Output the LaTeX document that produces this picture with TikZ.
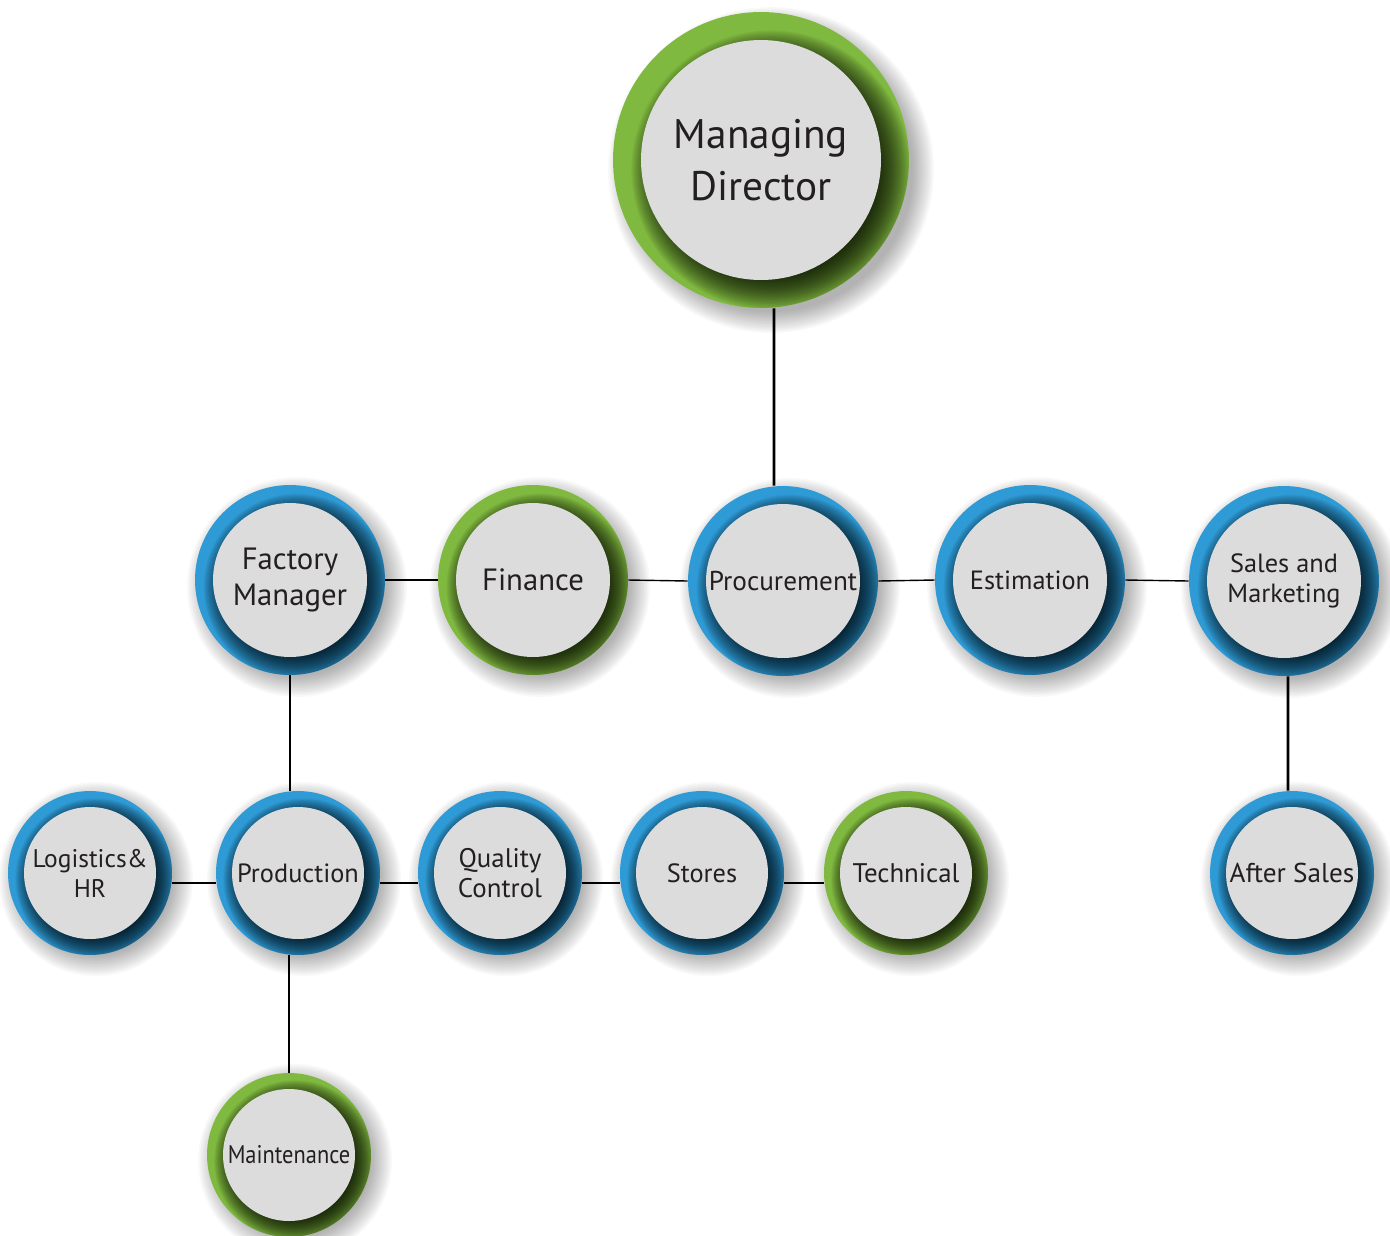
\documentclass[tikz,border=0pt]{standalone}
\usepackage{fontspec}
\setmainfont{PT Sans}

\definecolor{ringblue}{HTML}{2F9BD6}
\definecolor{ringgreen}{HTML}{80B940}
\definecolor{discgray}{HTML}{DCDCDC}
\definecolor{inktext}{HTML}{231F20}

\tikzset{
  unit/.style={circle, inner sep=0pt, align=center, text=inktext, fill=#1,
    path picture={
      \foreach \k in {24,...,0}
        \fill[black, opacity=.05] ([shift={(\shd,\shd)}]path picture bounding box.center) circle (\inr-\bst+\k*\blr);
      \fill[discgray] (path picture bounding box.center) circle (\inr);
    }},
  big/.code={\def\outr{2.96cm}\def\inr{2.4cm}\def\shd{10}\def\bst{0.28cm}\def\blr{0.028cm}\pgfkeysalso{minimum size=5.92cm}},
  mid/.code={\def\outr{1.9cm}\def\inr{1.54cm}\def\shd{7}\def\bst{0.2cm}\def\blr{0.022cm}\pgfkeysalso{minimum size=3.8cm}},
  small/.code={\def\outr{1.64cm}\def\inr{1.32cm}\def\shd{6}\def\bst{0.16cm}\def\blr{0.019cm}\pgfkeysalso{minimum size=3.28cm}},
  link/.style={line width=0.8pt},
  drop/.style={line width=1.6pt},
}

% soft shadow, then the ring with its label
\newcommand{\orgunit}[5]{%
  \begin{scope}[#3]
    \foreach \k in {0,...,14}
      \fill[black, opacity=.022] ([shift={(\shd,\shd)}]#2) circle (\outr-0.12cm+\k*0.03cm);
  \end{scope}
  \node[unit=#4, #3] (#1) at (#2) {#5};
}

\begin{document}
\begin{tikzpicture}[x=0.02cm, y=-0.02cm]
  \useasboundingbox (0,0) rectangle (1390,1235);

  \orgunit{md}{761,160}{big, font=\fontsize{23.5}{30}\selectfont}{ringgreen}{Managing\\Director}

  \orgunit{fm}{290,580}{mid, font=\fontsize{17.5}{20.5}\selectfont}{ringblue}{Factory\\Manager}
  \orgunit{fin}{533,580}{mid, font=\fontsize{17.5}{20}\selectfont}{ringgreen}{Finance}
  \orgunit{proc}{783,581}{mid, font=\fontsize{15.5}{18}\selectfont}{ringblue}{Procurement}
  \orgunit{est}{1030,580}{mid, font=\fontsize{15}{18}\selectfont}{ringblue}{Estimation}
  \orgunit{sm}{1284,581}{mid, font=\fontsize{15}{17.5}\selectfont}{ringblue}{Sales and\\Marketing}

  \orgunit{log}{90,873}{small, font=\fontsize{14.5}{17}\selectfont}{ringblue}{Logistics\&\\HR}
  \orgunit{prod}{298,873}{small, font=\fontsize{15}{17}\selectfont}{ringblue}{Production}
  \orgunit{qc}{500,873}{small, font=\fontsize{15.3}{17.5}\selectfont}{ringblue}{Quality\\Control}
  \orgunit{sto}{702,873}{small, font=\fontsize{15}{17}\selectfont}{ringblue}{Stores}
  \orgunit{tech}{906,873}{small, font=\fontsize{15.3}{17}\selectfont}{ringgreen}{Technical}
  \orgunit{as}{1292,873}{small, font=\fontsize{15.5}{17}\selectfont}{ringblue}{After Sales}

  \orgunit{mnt}{289,1155}{small, font=\fontsize{14.5}{17}\selectfont\addfontfeature{FakeStretch=0.88}}{ringgreen}{Maintenance}

  % horizontal links
  \draw[link] (fm.east) -- (fin.west);
  \draw[link] (fin.east) -- (proc.west);
  \draw[link] (proc.east) -- (est.west);
  \draw[link] (est.east) -- (sm.west);
  \draw[link] (log.-7) -- (prod.187);
  \draw[link] (prod.-7) -- (qc.187);
  \draw[link] (qc.-7) -- (sto.187);
  \draw[link] (sto.-7) -- (tech.187);

  % vertical drops
  \draw[drop] ([xshift=0.26cm]md.south) -- ([xshift=-0.18cm]proc.north);
  \draw[drop] (fm.south) -- (fm.south |- prod.north);
  \draw[drop] (prod.south -| mnt.north) -- (mnt.north);
  \draw[drop] ([xshift=0.08cm]sm.south) -- ([xshift=-0.08cm]as.north);
\end{tikzpicture}
\end{document}
